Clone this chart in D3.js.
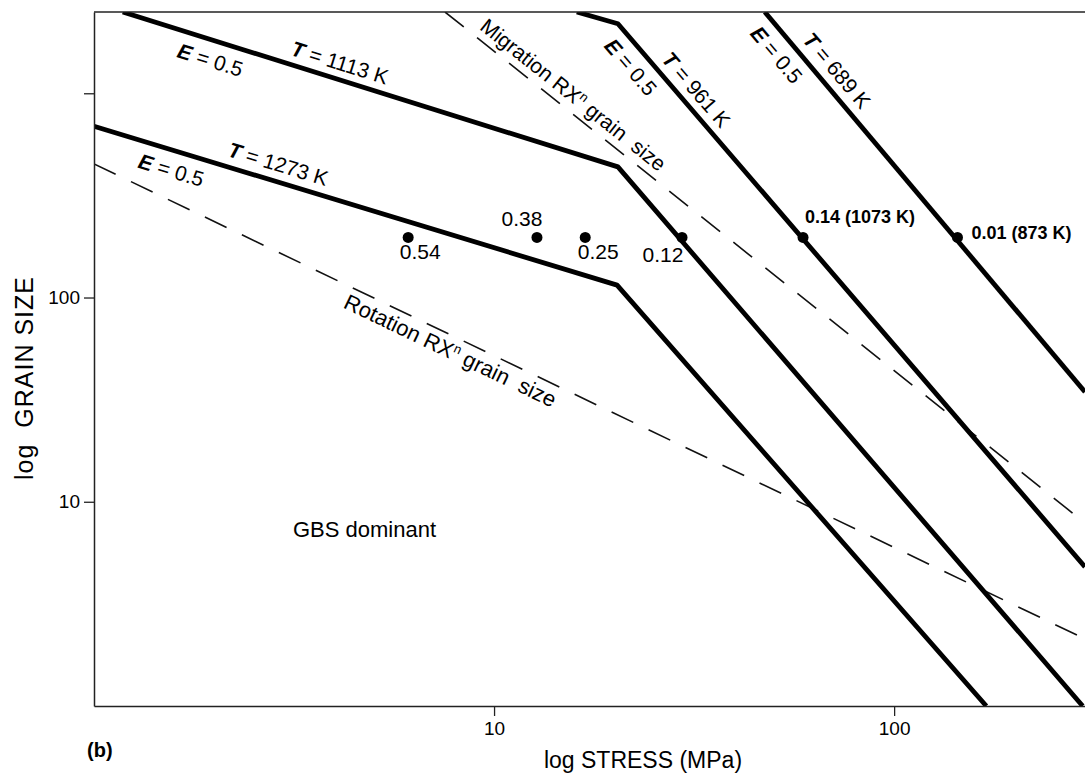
<!DOCTYPE html>
<html>
<head>
<meta charset="utf-8">
<script src="https://cdn.jsdelivr.net/npm/d3@7"></script>
<style>
  body { margin: 0; background: #fff; }
  svg { display: block; font-family: "Liberation Sans", Arial, sans-serif; }
</style>
</head>
<body>
<svg id="chart"></svg>
<script>
const width = 1085;
const height = 777;
const plot = { left: 94, right: 1085, top: 12, bottom: 706 };

// axes (log-log)
const stressDomain = [1, 300];
const grainDomain = [1, 2500];
const stressTicks = [10, 100];
const grainTicks = [10, 100, 1000];
const grainTickLabels = ["10", "100", ""];

// E = 0.5 boundaries, [stress MPa, grain size]
const line1273 = [[1, 690], [20.3, 115], [170, 1]];
const line1113 = [[1.18, 2500], [20.4, 436], [296, 1]];
const line961 = [[16.1, 2500], [20.4, 2190], [300, 4.8]];
const line689 = [[47.5, 2500], [300, 34.5]];
const tempNames = ["1273", "1113", "961", "689"];

// recrystallised grain size lines
const migrationLine = [[7.54, 2500], [300, 7.87]];
const rotationLine = [[1, 451], [300, 2.13]];

// measured points
const dotStress = [6.1, 12.8, 16.9, 29.5, 59.2, 144];
const dotGrain = [197, 197, 197, 197, 197, 197];
const dotLabels = ["0.54", "0.38", "0.25", "0.12", "0.14 (1073 K)", "0.01 (873 K)"];


const svg = d3.select("#chart")
    .attr("width", width)
    .attr("height", height)
    .attr("viewBox", [0, 0, width, height]);

const x = d3.scaleLog().domain(stressDomain).range([plot.left, plot.right]);
const y = d3.scaleLog().domain(grainDomain).range([plot.bottom, plot.top]);

const lines = { "1273": line1273, "1113": line1113, "961": line961, "689": line689 };

svg.append("clipPath").attr("id", "clip")
    .append("rect")
    .attr("x", plot.left).attr("y", plot.top)
    .attr("width", plot.right - plot.left).attr("height", plot.bottom - plot.top);

const line = d3.line().x(d => x(d[0])).y(d => y(d[1]));

const g = svg.append("g").attr("clip-path", "url(#clip)");

// dashed lines
g.selectAll("path.dash")
    .data([migrationLine, rotationLine])
    .join("path")
    .attr("class", "dash")
    .attr("d", line)
    .attr("fill", "none")
    .attr("stroke", "#111")
    .attr("stroke-width", 1.6)
    .attr("stroke-dasharray", "24,17");

// solid boundaries
g.selectAll("path.temp")
    .data(tempNames.map(t => lines[t]))
    .join("path")
    .attr("class", "temp")
    .attr("d", line)
    .attr("fill", "none")
    .attr("stroke", "#000")
    .attr("stroke-width", 4.8)
    .attr("stroke-linejoin", "round");

// frame: left, bottom and top
svg.append("g")
    .attr("transform", `translate(0,${plot.bottom})`)
    .call(d3.axisBottom(x).tickValues(stressTicks).tickFormat(d3.format("d")).tickSize(10).tickSizeOuter(0).tickPadding(6))
    .call(a => a.select(".domain").attr("stroke", "#222").attr("stroke-width", 1.5))
    .call(a => a.selectAll(".tick line").attr("stroke", "#222").attr("stroke-width", 1.3))
    .call(a => a.selectAll(".tick text").attr("font-size", "19px").attr("fill", "#000").attr("font-family", "Liberation Sans, Arial, sans-serif"));

svg.append("g")
    .attr("transform", `translate(${plot.left},0)`)
    .call(d3.axisLeft(y).tickValues(grainTicks).tickFormat((d, i) => grainTickLabels[i]).tickSize(10).tickSizeOuter(0).tickPadding(4))
    .call(a => a.select(".domain").attr("stroke", "#222").attr("stroke-width", 1.5))
    .call(a => a.selectAll(".tick line").attr("stroke", "#222").attr("stroke-width", 1.3))
    .call(a => a.selectAll(".tick text").attr("font-size", "19px").attr("fill", "#000").attr("font-family", "Liberation Sans, Arial, sans-serif"));

svg.append("line")
    .attr("x1", plot.left).attr("x2", plot.right)
    .attr("y1", plot.top).attr("y2", plot.top)
    .attr("stroke", "#222").attr("stroke-width", 1.5);

// point on a polyline at given stress, with screen angle
function pointOn(pts, s) {
    let i = 0;
    while (i < pts.length - 2 && s > pts[i + 1][0]) i++;
    const x0 = x(pts[i][0]), y0 = y(pts[i][1]);
    const x1 = x(pts[i + 1][0]), y1 = y(pts[i + 1][1]);
    const px = x(s);
    const t = (px - x0) / (x1 - x0);
    return { px: px, py: y0 + t * (y1 - y0), a: Math.atan2(y1 - y0, x1 - x0) };
}

function placeAlong(pts, s, off) {
    const p = pointOn(pts, s);
    const tx = p.px + off * Math.sin(p.a);
    const ty = p.py - off * Math.cos(p.a);
    return `translate(${tx},${ty}) rotate(${p.a * 180 / Math.PI})`;
}

// E / T labels along the boundaries
const labelSpecs = [
    { t: "1113", s: 1.68, off: -27, sym: "E", rest: " = 0.5" },
    { t: "1113", s: 3.04, off: 9, sym: "T", rest: " = 1113 K" },
    { t: "1273", s: 1.34, off: -27, sym: "E", rest: " = 0.5" },
    { t: "1273", s: 2.11, off: 10, sym: "T", rest: " = 1273 K" },
    { t: "961", s: 21.0, off: -26, sym: "E", rest: " = 0.5" },
    { t: "961", s: 25.1, off: 9, sym: "T", rest: " = 961 K" },
    { t: "689", s: 48.7, off: -26, sym: "E", rest: " = 0.5" },
    { t: "689", s: 56.2, off: 10, sym: "T", rest: " = 689 K" }
];

labelSpecs.forEach(l => {
    const txt = svg.append("text")
        .attr("transform", placeAlong(lines[l.t], l.s, l.off))
        .attr("font-size", "21px")
        .attr("xml:space", "preserve");
    txt.append("tspan").attr("font-weight", "bold").attr("font-style", "italic").text(l.sym);
    txt.append("tspan").text(l.rest);
});

// RX grain size labels
function rxLabel(pts, s, off, word, size) {
    const txt = svg.append("text")
        .attr("transform", placeAlong(pts, s, off))
        .attr("font-size", size)
        .attr("xml:space", "preserve");
    txt.append("tspan").text(word + " RX");
    txt.append("tspan").attr("font-size", "13px").attr("dy", -8).text("n");
    txt.append("tspan").attr("dy", 8).text(" grain  size");
}
rxLabel(migrationLine, 8.9, 8, "Migration", "21px");
rxLabel(rotationLine, 4.41, -22, "Rotation", "22px");

// data points
const dotLabelOffsets = [[12, 22, "middle"], [-15, -11, "middle"], [13, 22, "middle"], [-19, 25, "middle"], [2, -14, "start"], [14, 2, "start"]];

svg.append("g")
    .selectAll("circle")
    .data(dotStress)
    .join("circle")
    .attr("cx", d => x(d))
    .attr("cy", (d, i) => y(dotGrain[i]))
    .attr("r", 5.5)
    .attr("fill", "#000");

svg.append("g")
    .selectAll("text")
    .data(dotLabels)
    .join("text")
    .attr("x", (d, i) => x(dotStress[i]) + dotLabelOffsets[i][0])
    .attr("y", (d, i) => y(dotGrain[i]) + dotLabelOffsets[i][1])
    .attr("text-anchor", (d, i) => dotLabelOffsets[i][2])
    .attr("font-size", (d, i) => i > 3 ? "18px" : "21px")
    .attr("font-weight", (d, i) => i > 3 ? "bold" : "normal")
    .text(d => d);

// region label
svg.append("text")
    .attr("x", 293).attr("y", 537)
    .attr("font-size", "22px")
    .text("GBS dominant");

// axis titles
svg.append("text")
    .attr("transform", "rotate(-90)")
    .attr("x", -378).attr("y", 33)
    .attr("text-anchor", "middle")
    .attr("font-size", "25px")
    .attr("letter-spacing", "1px")
    .attr("xml:space", "preserve")
    .text("log  GRAIN SIZE");

svg.append("text")
    .attr("x", 643).attr("y", 768)
    .attr("text-anchor", "middle")
    .attr("font-size", "23px")
    .text("log STRESS (MPa)");

svg.append("text")
    .attr("x", 87).attr("y", 757)
    .attr("font-size", "20px")
    .attr("font-weight", "bold")
    .text("(b)");
</script>
</body>
</html>
